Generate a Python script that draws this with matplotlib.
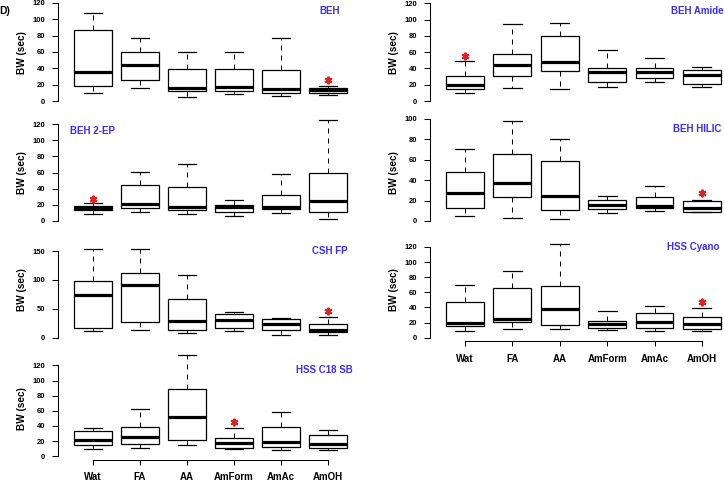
import matplotlib
matplotlib.use('Agg')
import matplotlib.pyplot as plt

plt.rcParams['font.family'] = ['Liberation Sans', 'DejaVu Sans']
plt.rcParams['font.weight'] = 'bold'

categories = ['Wat', 'FA', 'AA', 'AmForm', 'AmAc', 'AmOH']

# per category: [lower whisker, Q1, median, Q3, upper whisker]
beh = [[9.8, 18, 36, 86.8, 107.7], [15.6, 26.2, 44.2, 59.8, 76.6], [5.3, 11.9, 16.4, 39.7, 59.8],
       [8.2, 12.3, 17.6, 38.9, 60.2], [6.6, 9.4, 14.3, 38.1, 76.6], [7.4, 9.8, 13.5, 16.4, 18.8]]
beh_amide = [[9.4, 14.7, 19.7, 31.1, 48.7], [16, 30.7, 44.2, 57.3, 94.2], [15.2, 36.9, 47.5, 79.4, 96.2],
             [17.6, 23.3, 35.6, 40.1, 63], [23.8, 28.7, 36, 40.1, 52.8], [16.8, 21.3, 32.4, 37.7, 42.2]]
beh_2ep = [[9.1, 13.6, 15.7, 19, 21.9], [10.7, 16.5, 21, 44.1, 60.6], [9.1, 13.2, 17.7, 42.5, 70.1],
           [6.2, 11.5, 17.7, 19.8, 26.4], [10.3, 14.4, 16.9, 31.8, 57.7], [2, 10.7, 24.7, 59.4, 124.5]]
beh_hilic = [[5.2, 12.4, 27.1, 48.3, 70.9], [3.3, 23.8, 37.2, 65.3, 98], [1.6, 10.8, 24.8, 58.8, 80.7],
             [8.2, 11.8, 15.7, 20.2, 24.2], [9.5, 12.4, 14.7, 23.2, 34.6], [8.5, 9.1, 12.7, 19.6, 20.6]]
csh_fp = [[11, 16.7, 74.4, 98.7, 154], [13.8, 26.5, 90.6, 112.5, 154], [8.1, 13.8, 29.4, 66.4, 109],
          [11, 16.2, 30, 41, 45], [5.2, 13.3, 23.1, 31.7, 34.6], [5.2, 10.4, 12.7, 24.2, 35.2]]
hss_cyano = [[8.8, 15, 19, 47.6, 69.7], [11.9, 20.3, 24.7, 66.2, 88.2], [11, 16.3, 37.5, 68.8, 124],
             [9.7, 12.4, 18.5, 22.5, 35.7], [8.8, 13.2, 20.3, 32.2, 41.9], [8.4, 11.5, 17.6, 27.8, 39.3]]
hss_c18_sb = [[9.7, 14.5, 21.5, 33.4, 37.4], [10.5, 15.8, 25.1, 38.2, 62.9], [14.5, 21.5, 51.4, 89.2, 133],
              [9.2, 11.4, 17.1, 24.6, 37.8], [8.8, 12.7, 19.3, 38.2, 58.5], [7.9, 10.5, 16.3, 28.1, 34.7]]

# significance star: (category index, value)
star_beh = (5, 25.8)
star_beh_amide = (0, 55.3)
star_beh_2ep = (0, 27.6)
star_beh_hilic = (5, 27.1)
star_csh_fp = (5, 46.7)
star_hss_cyano = (5, 47.6)
star_hss_c18_sb = (3, 45.3)

ticks_120 = [0, 20, 40, 60, 80, 100, 120]
ticks_100 = [0, 20, 40, 60, 80, 100]
ticks_150 = [0, 50, 100, 150]

W, H = 724, 482
fig = plt.figure(figsize=(W / 100, H / 100), dpi=100)

COLS = {'L': (58.2, 362.8), 'R': (429.9, 737.0)}
BLUE = '#3b2cff'
RED = '#e02222'

# (title, data, star, column, y0 px, px per unit, ticks, title x px, title y px, title ha, x axis)
panels = [
    ('BEH', beh, star_beh, 'L', 101.0, 0.8167, ticks_120, 340, 11, 'right', False),
    ('BEH 2-EP', beh_2ep, star_beh_2ep, 'L', 221.0, 0.808, ticks_120, 70, 130.7, 'left', False),
    ('CSH FP', csh_fp, star_csh_fp, 'L', 337.7, 0.577, ticks_150, 348, 251.3, 'right', False),
    ('HSS C18 SB', hss_c18_sb, star_hss_c18_sb, 'L', 456.3, 0.758, ticks_120, 353, 370, 'right', True),
    ('BEH Amide', beh_amide, star_beh_amide, 'R', 101.0, 0.814, ticks_120, 723.5, 11, 'right', False),
    ('BEH HILIC', beh_hilic, star_beh_hilic, 'R', 221.0, 1.021, ticks_100, 721.3, 129.3, 'right', False),
    ('HSS Cyano', hss_cyano, star_hss_cyano, 'R', 337.7, 0.756, ticks_120, 719, 247.3, 'right', True),
]

for (title, data, star, col, y0, s, ticks, tx, ty, tha, xaxis) in panels:
    xl, xr = COLS[col]
    ytop, ybot = y0 - 106, y0 + 3.7
    ax = fig.add_axes([xl / W, 1 - ybot / H, (xr - xl) / W, (ybot - ytop) / H])
    ax.patch.set_alpha(0)
    stats = [dict(whislo=r[0], q1=r[1], med=r[2], q3=r[3], whishi=r[4], fliers=[], label=c)
             for r, c in zip(data, categories)]
    ax.bxp(stats, positions=range(1, 7), widths=0.8, patch_artist=True, showfliers=False,
           boxprops=dict(facecolor='white', edgecolor='black', linewidth=0.9),
           medianprops=dict(color='black', linewidth=2.3, solid_capstyle='butt'),
           whiskerprops=dict(color='black', linewidth=0.75, linestyle=(0, (4.8, 4.8))),
           capprops=dict(color='black', linewidth=0.9))
    ax.plot(star[0] + 1, star[1], linestyle='none', marker=(6, 2, 0), markersize=5.5,
            markeredgewidth=1.5, color=RED)
    ax.set_xlim(0.26, 6.74)
    ax.set_ylim(-3.7 / s, 106 / s)
    for sp in ('top', 'right'):
        ax.spines[sp].set_visible(False)
    ax.spines['left'].set_bounds(ticks[0], ticks[-1])
    ax.spines['left'].set_linewidth(0.75)
    ax.set_yticks(ticks)
    ax.set_yticklabels([str(t) for t in ticks])
    ax.tick_params(axis='y', direction='out', length=4.3, width=0.75, pad=5, labelsize=5.5)
    if xaxis:
        ax.spines['bottom'].set_bounds(1, 6)
        ax.spines['bottom'].set_linewidth(0.75)
        ax.set_xticks(range(1, 7))
        ax.set_xticklabels(categories)
        ax.tick_params(axis='x', direction='out', length=3.6, width=0.75, pad=5.4, labelsize=7)
    else:
        ax.spines['bottom'].set_visible(False)
        ax.set_xticks([])
    fig.text(tx / W, 1 - ty / H, title, color=BLUE, fontsize=7, fontweight='bold',
             ha=tha, va='center')
    fig.text((xl - 36) / W, 1 - (y0 - 48) / H, 'BW (sec)', rotation=90, fontsize=7.2,
             fontweight='bold', ha='center', va='center')

fig.text(10 / W, 1 - 11 / H, 'D)', fontsize=7.5, fontweight='bold', ha='right', va='center')

fig.savefig('out.png', dpi=100)
